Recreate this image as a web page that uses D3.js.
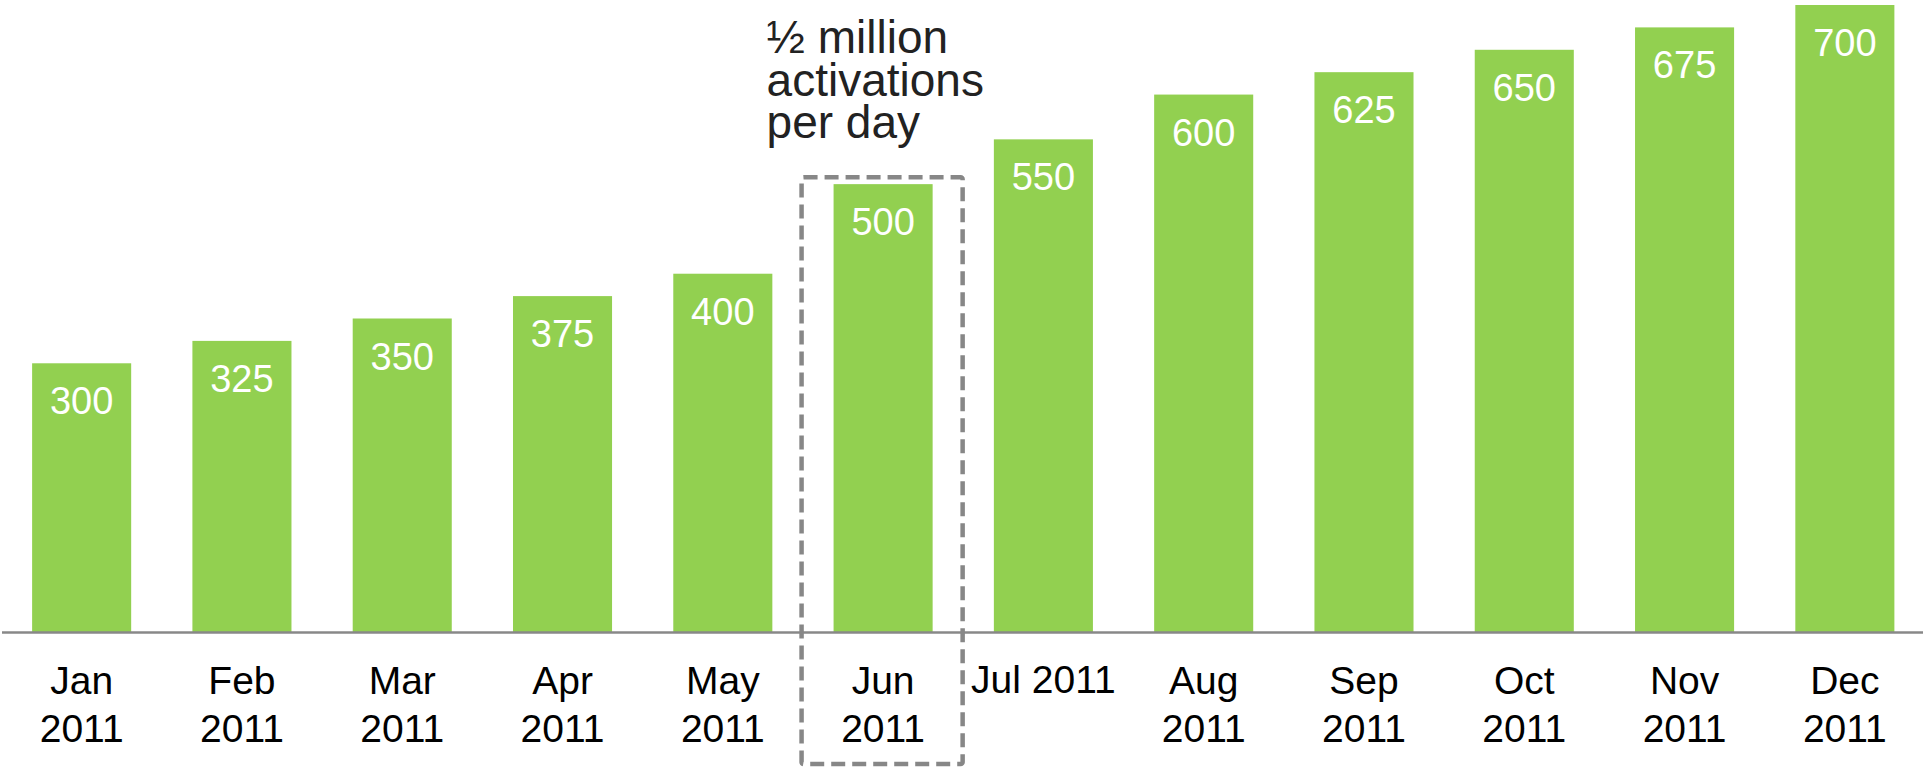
<!DOCTYPE html>
<html>
<head>
<meta charset="utf-8">
<script src="https://cdn.jsdelivr.net/npm/d3@7"></script>
<style>
  html, body { margin: 0; padding: 0; background: #fff; }
  svg { display: block; font-family: "Liberation Sans", Arial, Helvetica, sans-serif; }
</style>
</head>
<body>
<svg id="chart" width="1923" height="768"></svg>
<script>
// ---- data ----
const categories = ["Jan", "Feb", "Mar", "Apr", "May", "Jun", "Jul", "Aug", "Sep", "Oct", "Nov", "Dec"];
const tickLabels = [
  ["Jan", "2011"], ["Feb", "2011"], ["Mar", "2011"], ["Apr", "2011"], ["May", "2011"], ["Jun", "2011"],
  ["Jul 2011"], ["Aug", "2011"], ["Sep", "2011"], ["Oct", "2011"], ["Nov", "2011"], ["Dec", "2011"]
];
const activations = [300, 325, 350, 375, 400, 500, 550, 600, 625, 650, 675, 700];
const highlightCategory = "Jun";
const annotationLines = ["\u00BD million", "activations", "per day"];

// ---- layout ----
const W = 1923, H = 768;
const baseY = 632, topY = 5;
const svg = d3.select("#chart");

const x = d3.scaleBand()
  .domain(categories)
  .range([1.5, 1925])
  .paddingInner(0.382)
  .paddingOuter(0.191);

const y = d3.scaleLinear()
  .domain([0, 700])
  .range([baseY, topY]);

const data = categories.map((c, i) => ({ cat: c, value: activations[i], label: tickLabels[i] }));

// bars
svg.append("g").selectAll("rect")
  .data(data)
  .join("rect")
  .attr("x", d => x(d.cat))
  .attr("y", d => y(d.value))
  .attr("width", x.bandwidth())
  .attr("height", d => y(0) - y(d.value))
  .attr("fill", "#92D050");

// value labels
svg.append("g").selectAll("text")
  .data(data)
  .join("text")
  .attr("x", d => x(d.cat) + x.bandwidth() / 2)
  .attr("y", d => y(d.value) + 51)
  .attr("text-anchor", "middle")
  .attr("fill", "#ffffff")
  .attr("font-size", 38)
  .text(d => d.value);

// x axis
const axis = svg.append("g")
  .attr("transform", `translate(0,${baseY})`)
  .call(d3.axisBottom(x).tickSize(0).tickSizeOuter(0).tickFormat(""));
axis.select(".domain")
  .attr("stroke", "#888888")
  .attr("stroke-width", 2.5);
axis.selectAll(".tick text").remove();
axis.selectAll(".tick").each(function(d, i) {
  const lines = tickLabels[i];
  const t = d3.select(this).append("text")
    .attr("fill", "#000")
    .attr("font-size", 39)
    .attr("text-anchor", "middle");
  lines.forEach((ln, j) => {
    t.append("tspan")
      .attr("x", 0)
      .attr("y", lines.length === 1 ? 61 : 62 + j * 48)
      .text(ln);
  });
});

// highlight dashed box
const hx = x(highlightCategory);
const hv = activations[categories.indexOf(highlightCategory)];
svg.append("rect")
  .attr("x", hx - 32)
  .attr("y", y(hv) - 7)
  .attr("width", x.bandwidth() + 62)
  .attr("height", 764 - (y(hv) - 7))
  .attr("fill", "none")
  .attr("stroke", "#878787")
  .attr("stroke-width", 4.5)
  .attr("stroke-dasharray", "14,7")
  .attr("rx", 2);

// annotation
const ann = svg.append("text")
  .attr("fill", "#222222")
  .attr("font-size", 46);
annotationLines.forEach((ln, j) => {
  ann.append("tspan")
    .attr("x", hx - 67)
    .attr("y", 53 + j * 42.5)
    .text(ln);
});
</script>
</body>
</html>
